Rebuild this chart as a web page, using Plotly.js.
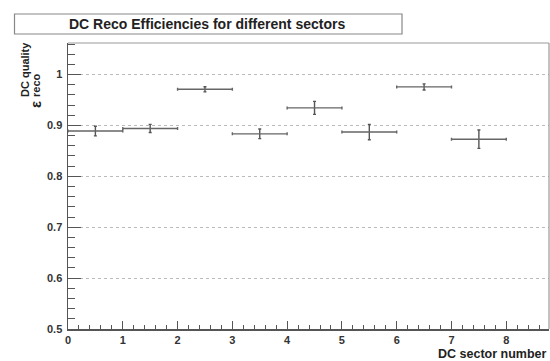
<!DOCTYPE html>
<html>
<head>
<meta charset="utf-8">
<script src="https://cdn.plot.ly/plotly-3.0.1.min.js"></script>
<style>
  html, body { margin: 0; padding: 0; background: #ffffff; }
  #chart { width: 550px; height: 361px; }
</style>
</head>
<body>
<div id="chart"></div>
<script>
// DC reconstruction efficiency per drift-chamber sector
const sectorCenters = [0.5, 1.5, 2.5, 3.5, 4.5, 5.5, 6.5, 7.5];
const sectorHalfWidth = [0.5, 0.5, 0.5, 0.5, 0.5, 0.5, 0.5, 0.5];
const efficiency = [0.889, 0.894, 0.971, 0.8835, 0.9345, 0.887, 0.9757, 0.873];
const efficiencyErr = [0.0095, 0.008, 0.005, 0.0095, 0.0127, 0.015, 0.006, 0.018];
const xTickVals = [0, 1, 2, 3, 4, 5, 6, 7, 8];
const yTickVals = [0.5, 0.6, 0.7, 0.8, 0.9, 1.0];

const W = 550, H = 361;
const M = { l: 68, r: 1, t: 43, b: 32 };
const PW = W - M.l - M.r, PH = H - M.t - M.b;
const px = x => (x - M.l) / PW;
const py = y => (H - M.b - y) / PH;

const FONT = 'Liberation Sans, Arial, Helvetica, sans-serif';
const INK = '#333333';

const trace = {
  type: 'scatter',
  mode: 'markers',
  x: sectorCenters,
  y: efficiency,
  marker: { size: 1, color: 'rgba(0,0,0,0)' },
  error_x: { type: 'data', array: sectorHalfWidth, visible: true, color: '#666666', thickness: 1.4, width: 1.5 },
  error_y: { type: 'data', array: efficiencyErr, visible: true, color: '#555555', thickness: 1.4, width: 1.5 },
  hoverinfo: 'x+y'
};

const layout = {
  width: W, height: H,
  margin: M,
  paper_bgcolor: '#ffffff',
  plot_bgcolor: '#ffffff',
  showlegend: false,
  font: { family: FONT, color: INK },
  xaxis: {
    range: [0, 8.78],
    tickvals: xTickVals,
    ticks: 'inside', ticklen: 8, tickwidth: 1, tickcolor: '#555555',
    minor: { dtick: 0.2, ticks: 'inside', ticklen: 4, tickcolor: '#555555', showgrid: false },
    showgrid: false, zeroline: false,
    showline: true, linecolor: '#555555', linewidth: 1.5,
    tickfont: { family: FONT, size: 11, color: INK, weight: 'bold' },
    ticklabelstandoff: 0
  },
  yaxis: {
    range: [0.5, 1.062],
    tickvals: yTickVals,
    ticktext: ['0.5', '0.6', '0.7', '0.8', '0.9', '1'],
    ticks: 'inside', ticklen: 13, tickwidth: 1, tickcolor: '#555555',
    minor: { dtick: 0.02, ticks: 'inside', ticklen: 7, tickcolor: '#555555', showgrid: false },
    showgrid: true, gridcolor: '#bbbbbb', griddash: 'dot', gridwidth: 1,
    zeroline: false,
    showline: true, linecolor: '#555555', linewidth: 1.5,
    tickfont: { family: FONT, size: 11, color: INK, weight: 'bold' },
    ticklabelstandoff: 2
  },
  shapes: [
    // frame top and right
    { type: 'line', xref: 'paper', yref: 'paper', x0: 0, x1: 1, y0: 1, y1: 1, line: { color: '#999999', width: 1.2 } },
    { type: 'line', xref: 'paper', yref: 'paper', x0: 1, x1: 1, y0: 0, y1: 1, line: { color: '#999999', width: 1.2 } },
    // title box
    { type: 'rect', xref: 'paper', yref: 'paper', x0: px(14.5), x1: px(402), y0: py(34), y1: py(14),
      line: { color: '#888888', width: 1.2 }, fillcolor: '#ffffff' }
  ],
  annotations: [
    { text: '<b>DC Reco Efficiencies for different sectors</b>', xref: 'paper', yref: 'paper',
      x: px(207), y: py(24), xanchor: 'center', yanchor: 'middle', showarrow: false,
      font: { family: FONT, size: 14, color: '#222222' } },
    { text: '<b>DC sector number</b>', xref: 'paper', yref: 'paper',
      x: px(548), y: py(354), xanchor: 'right', yanchor: 'middle', showarrow: false,
      font: { family: FONT, size: 12.5, color: '#222222' } },
    // y-axis label: epsilon with stacked sub/superscripts
    { text: '<b>ε</b>', xref: 'paper', yref: 'paper', textangle: -90,
      x: px(35), y: py(105), xanchor: 'center', yanchor: 'middle', showarrow: false,
      font: { family: FONT, size: 15, color: '#222222' } },
    { text: '<b>reco</b>', xref: 'paper', yref: 'paper', textangle: -90,
      x: px(36), y: py(85), xanchor: 'center', yanchor: 'middle', showarrow: false,
      font: { family: FONT, size: 11, color: '#222222' } },
    { text: '<b>DC quality</b>', xref: 'paper', yref: 'paper', textangle: -90,
      x: px(25), y: py(70), xanchor: 'center', yanchor: 'middle', showarrow: false,
      font: { family: FONT, size: 11, color: '#222222' } }
  ]
};

Plotly.newPlot('chart', [trace], layout, { displayModeBar: false, staticPlot: true });
</script>
</body>
</html>
